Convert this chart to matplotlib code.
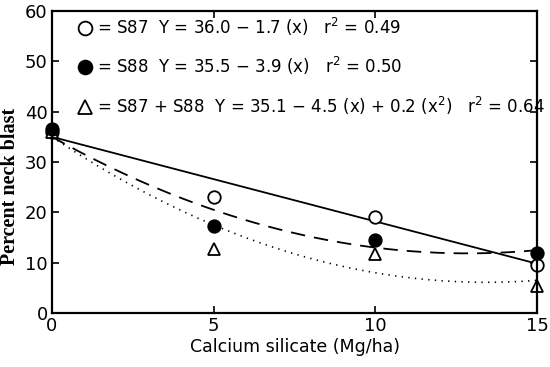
import matplotlib
matplotlib.use("Agg")
import matplotlib.pyplot as plt
import numpy as np

# measured points (percent neck blast)
rates = [0, 5, 10, 15]
s87 = [36.0, 23.1, 19.1, 9.5]
s88 = [36.6, 17.2, 14.5, 11.9]
both = [36.0, 12.7, 11.7, 5.4]

# fitted curves as drawn (intercept, x, x^2)
fit_s87 = [35.0, -1.68, 0.0]
fit_s88 = [35.0, -3.6, 0.14]
fit_both = [35.0, -4.3, 0.16]

labels = [
    "= S87  Y = 36.0 \u2212 1.7 (x)   r$^2$ = 0.49",
    "= S88  Y = 35.5 \u2212 3.9 (x)   r$^2$ = 0.50",
    "= S87 + S88  Y = 35.1 \u2212 4.5 (x) + 0.2 (x$^2$)   r$^2$ = 0.64",
]

plt.rcParams['mathtext.default'] = 'regular'
plt.rcParams['font.family'] = 'DejaVu Sans'

fig = plt.figure(figsize=(5.5, 3.67), dpi=100)
ax = fig.add_axes([0.0945, 0.147, 0.882, 0.823])

xs = np.linspace(0, 15, 200)
def curve(c):
    return c[0] + c[1]*xs + c[2]*xs**2

ax.plot(xs, curve(fit_s87), color='black', lw=1.3, solid_capstyle='butt')
ax.plot(xs, curve(fit_s88), color='black', lw=1.3, dashes=(8, 5))
ax.plot(xs, curve(fit_both), color='black', lw=1.2, dashes=(0.8, 3.2))

ms = 9
h87, = ax.plot(rates, s87, 'o', ms=ms, mfc='white', mec='black', mew=1.3, clip_on=False)
hb, = ax.plot(rates, both, '^', ms=ms, mfc='white', mec='black', mew=1.3, clip_on=False)
h88, = ax.plot(rates, s88, 'o', ms=ms, mfc='black', mec='black', mew=1.3, clip_on=False)

ax.set_xlim(0, 15)
ax.set_ylim(0, 60)
ax.set_xticks([0, 5, 10, 15])
ax.set_yticks(range(0, 61, 10))
ax.tick_params(direction='in', length=5, width=1.2, labelsize=13, top=True, right=True, pad=3)
for s in ax.spines.values():
    s.set_linewidth(1.6)
    s.set_zorder(5)

ax.set_xlabel("Calcium silicate (Mg/ha)", fontsize=12.5, labelpad=2)
ax.set_ylabel("Percent neck blast", fontsize=14.5, fontweight='bold',
              family='Liberation Serif')
ax.yaxis.set_label_coords(-0.065, 0.42)

leg = ax.legend([h87, h88, hb], labels, loc='upper left', bbox_to_anchor=(0.053, 0.985),
                frameon=False, fontsize=12, handlelength=0.9, handletextpad=0.25,
                labelspacing=1.05, borderaxespad=0, borderpad=0, markerscale=1.1)

fig.savefig("out.png", dpi=100)
